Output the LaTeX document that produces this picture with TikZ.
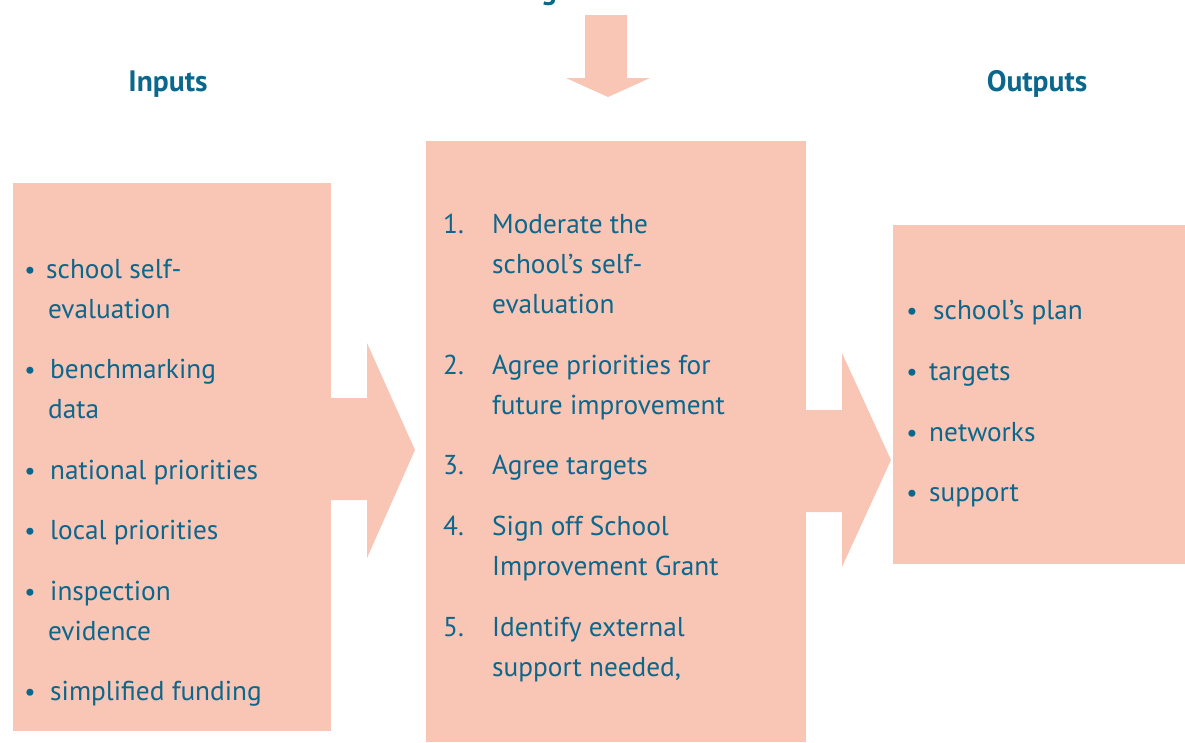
\documentclass[tikz,border=0pt]{standalone}
\usepackage{fontspec}
\setmainfont{PT Sans}
\definecolor{boxfill}{HTML}{F9C5B5}
\definecolor{txt}{HTML}{0B678C}
\begin{document}
\begin{tikzpicture}[x=1pt,y=-1pt,
  box/.style={fill=boxfill,draw=none,inner sep=0,outer sep=0,anchor=north west},
  blk/.style={fill=boxfill,draw=none},
  itm/.style={anchor=base west,inner sep=0,text=txt,font=\fontsize{27.3}{30}\selectfont},
  bul/.style={anchor=base,inner sep=0,text=txt,font=\fontsize{25}{30}\selectfont},
  hdr/.style={anchor=base,inner sep=0,text=txt,font=\bfseries\fontsize{29.5}{32}\selectfont}]
\useasboundingbox (0,0) rectangle (1185,742);
\begin{scope}
\clip (0,0) rectangle (1185,742);
% partial title
\node[hdr] (title) at (549,-1) {g};
% boxes
\node[box,minimum width=318,minimum height=548] (inbox) at (13,183) {};
\node[box,minimum width=380,minimum height=601] (midbox) at (426,141) {};
\node[box,minimum width=292,minimum height=339] (outbox) at (893,225) {};
% block arrows
\fill[blk] (585,15) -- (627,15) -- (627,78) -- (650,78) -- (608,97) -- (566,78) -- (585,78) -- cycle;
\fill[blk] (330,398) -- (367,398) -- (367,343) -- (415,450) -- (367,558) -- (367,500) -- (330,500) -- cycle;
\fill[blk] (805,410) -- (842,410) -- (842,353) -- (891,460) -- (842,567) -- (842,512) -- (805,512) -- cycle;
\end{scope}
% headers
\node[hdr] (inhdr) at (168,91) {Inputs};
\node[hdr] (outhdr) at (1037,91) {Outputs};
% inputs
\node[bul] (ib1) at (30,278) {•};
\node[itm] (i1a) at (46,278) {school self-};
\node[itm] (i1b) at (48,318) {evaluation};
\node[bul] (ib2) at (30,378) {•};
\node[itm] (i2a) at (50,378) {benchmarking};
\node[itm] (i2b) at (48,418) {data};
\node[bul] (ib3) at (30,479) {•};
\node[itm] (i3) at (50,479) {national priorities};
\node[bul] (ib4) at (30,539) {•};
\node[itm] (i4) at (50,539) {local priorities};
\node[bul] (ib5) at (30,600) {•};
\node[itm] (i5a) at (50,600) {inspection};
\node[itm] (i5b) at (48,640) {evidence};
\node[bul] (ib6) at (30,700) {•};
\node[itm] (i6) at (50,700) {simplified funding};
% middle
\node[itm] (n1) at (443,233) {1.};
\node[itm] (m1a) at (492,233) {Moderate the};
\node[itm] (m1b) at (492,273) {school’s self-};
\node[itm] (m1c) at (492,313) {evaluation};
\node[itm] (n2) at (443,374) {2.};
\node[itm] (m2a) at (492,374) {Agree priorities for};
\node[itm] (m2b) at (492,414) {future improvement};
\node[itm] (n3) at (443,474) {3.};
\node[itm] (m3) at (492,474) {Agree targets};
\node[itm] (n4) at (443,535) {4.};
\node[itm] (m4a) at (492,535) {Sign off School};
\node[itm] (m4b) at (492,575) {Improvement Grant};
\node[itm] (n5) at (443,636) {5.};
\node[itm] (m5a) at (492,636) {Identify external};
\node[itm] (m5b) at (492,676) {support needed,};
% outputs
\node[bul] (ob1) at (912,319) {•};
\node[itm] (o1) at (933,319) {school’s plan};
\node[bul] (ob2) at (912,380) {•};
\node[itm] (o2) at (929,380) {targets};
\node[bul] (ob3) at (912,441) {•};
\node[itm] (o3) at (929,441) {networks};
\node[bul] (ob4) at (912,501) {•};
\node[itm] (o4) at (929,501) {support};
\end{tikzpicture}
\end{document}
